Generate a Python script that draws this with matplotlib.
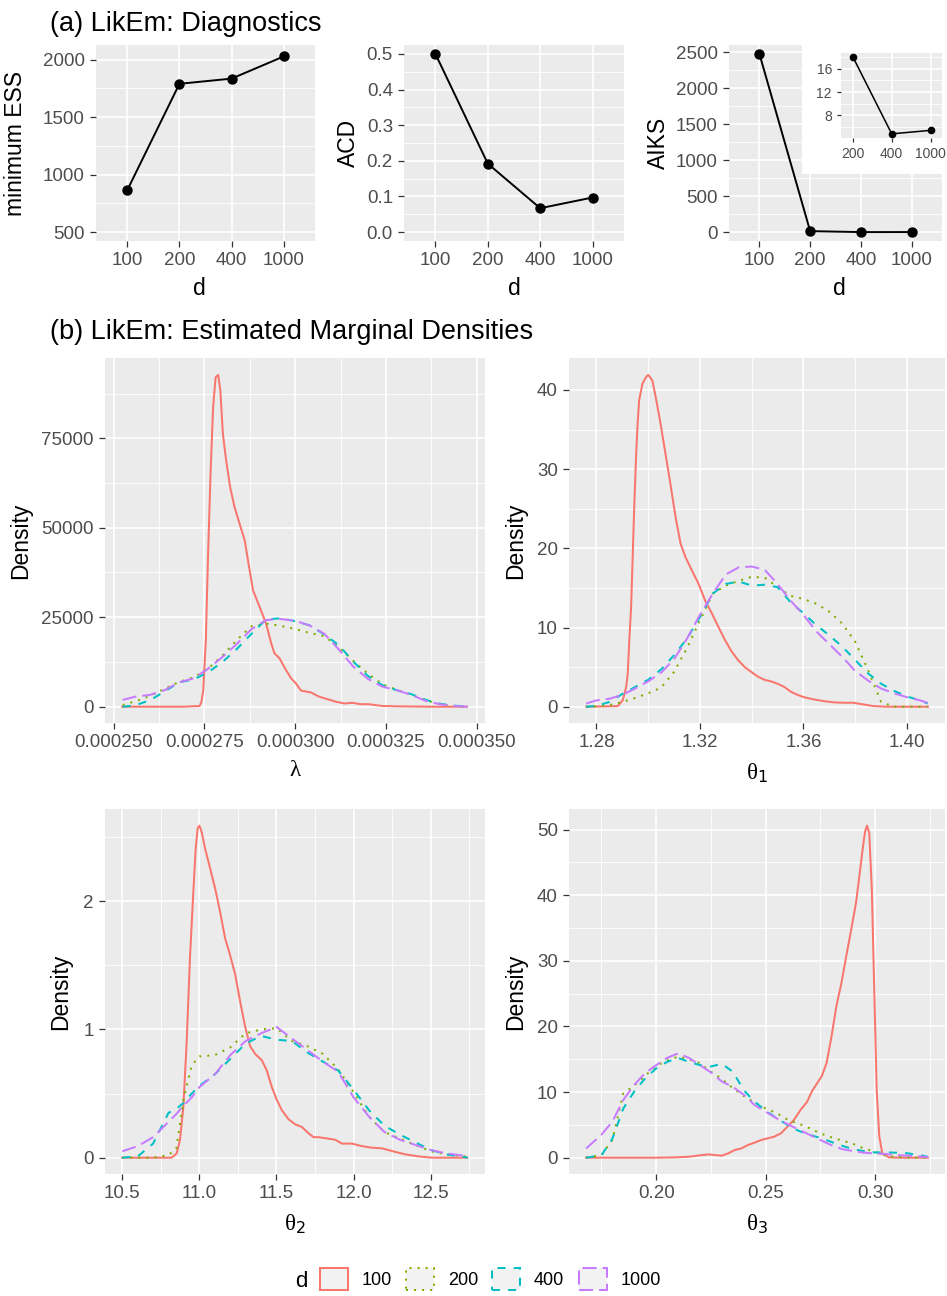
import numpy as np
import matplotlib
matplotlib.use("Agg")
import matplotlib.pyplot as plt
from matplotlib.patches import Patch, Rectangle
from matplotlib.ticker import FixedLocator

plt.rcParams['font.family'] = ['Liberation Sans', 'DejaVu Sans']

# ---- data: diagnostics ----
d_levels = ['100', '200', '400', '1000']
min_ess = [865, 1790, 1835, 2028]
acd = [0.50, 0.192, 0.067, 0.097]
aiks = [2475, 18.1, 4.8, 5.4]

# ---- data: marginal densities ----
# lambda, x in units of 1e-6, density in thousands
lam_grid = [252.5, 256, 260, 264, 268, 272, 276, 280, 284, 288, 292, 296, 300,
            304, 308, 312, 316, 320, 324, 328, 332, 336, 340, 344, 347.5]
lam_200 = [0.46, 1.5, 3.0, 5.0, 6.9, 8.2, 10.6, 14.3, 18.7, 22.5, 23.2, 22.6, 21.7,
           20.6, 19.7, 16.7, 12.8, 9.2, 6.3, 4.7, 3.3, 1.8, 0.65, 0.2, 0]
lam_400 = [0, 0.4, 1.8, 4.2, 6.8, 7.6, 9.6, 12.5, 16.2, 20.4, 24.4, 24.7, 23.9,
           22.7, 20.2, 17.2, 12.6, 8.6, 6.0, 4.6, 3.5, 1.9, 0.8, 0.3, 0]
lam_1000 = [1.9, 2.8, 3.3, 4.6, 6.8, 7.9, 10.6, 13.9, 17.6, 21.7, 24.2, 24.5, 24.0,
            22.7, 20.4, 16.0, 11.2, 7.8, 5.6, 4.6, 3.3, 1.6, 0.65, 0.2, 0]
lam_100_x = [252.4, 260.0, 269.2, 273.7, 274.2, 274.7, 275.4, 276.0, 276.7, 277.4,
             278.1, 278.8, 279.4, 280.1, 281.0, 282.1, 283.3, 284.7, 286.1, 287.0,
             288.4, 290.2, 292.0, 293.4, 294.3, 295.7, 297.5, 298.9, 300.2, 301.6,
             304.3, 306.6, 308.9, 311.2, 313.5, 315.8, 318.0, 320.3, 324.0, 328.5,
             337.7, 347.3]
lam_100 = [0, 0, 0, 0.2, 1.4, 4.6, 18.6, 41.8, 65.1, 83.6, 92.0, 92.7, 88.3, 76.2,
           68.8, 61.3, 55.8, 51.1, 46.5, 40.9, 32.5, 27.9, 23.2, 17.7, 14.9, 13.5,
           10.2, 7.9, 6.5, 4.5, 4.0, 2.8, 2.1, 1.4, 0.9, 1.1, 0.7, 0.7, 0.2, 0.1, 0, 0]

# theta1
t1_grid = [1.276, 1.280, 1.285, 1.290, 1.295, 1.300, 1.305, 1.310, 1.315, 1.320,
           1.325, 1.330, 1.335, 1.340, 1.345, 1.350, 1.355, 1.360, 1.365, 1.370,
           1.375, 1.380, 1.385, 1.390, 1.395, 1.400, 1.405, 1.408]
t1_200 = [0, 0.04, 0.2, 0.6, 1.1, 1.7, 2.4, 4.4, 7.4, 10.9, 14.3, 15.3, 15.9, 16.4,
          16.3, 15.1, 14.0, 13.6, 13.0, 12.0, 10.5, 8.2, 4.6, 0.6, 0, 0, 0, 0]
t1_400 = [0, 0.1, 0.6, 1.6, 2.5, 3.4, 4.7, 6.5, 8.6, 11.3, 14.3, 15.5, 15.8, 15.3,
          15.4, 15.1, 13.2, 11.8, 10.3, 9.0, 7.6, 5.9, 4.2, 2.9, 2.0, 1.3, 0.8, 0.4]
t1_1000 = [0.4, 0.8, 1.0, 1.5, 2.3, 3.2, 4.3, 6.0, 8.6, 11.6, 14.3, 16.7, 17.6, 17.7,
           17.3, 15.5, 13.4, 11.6, 9.5, 7.9, 6.3, 4.5, 3.3, 2.3, 1.7, 1.2, 0.8, 0.5]
t1_100_x = [1.2761, 1.2883, 1.2902, 1.2915, 1.2921, 1.2927, 1.2934, 1.2940, 1.2946,
            1.2953, 1.2959, 1.2965, 1.2978, 1.2991, 1.3000, 1.3016, 1.3029, 1.3048,
            1.3067, 1.3086, 1.3106, 1.3125, 1.3144, 1.3169, 1.3195, 1.3220, 1.3246,
            1.3271, 1.3297, 1.3322, 1.3347, 1.3373, 1.3398, 1.3424, 1.3449, 1.3475,
            1.3500, 1.3526, 1.3551, 1.3577, 1.3602, 1.3640, 1.3678, 1.3717, 1.3755,
            1.3793, 1.3831, 1.3869, 1.3920, 1.4081]
t1_100 = [0, 0.08, 0.84, 2.5, 4.2, 8.4, 12.6, 18.9, 25.2, 31.5, 35.7, 38.7, 40.8,
          41.6, 41.9, 41.2, 39.1, 35.7, 31.9, 28.1, 23.9, 20.6, 18.9, 17.2, 15.5,
          13.4, 11.8, 10.1, 8.4, 7.0, 5.9, 5.0, 4.4, 3.8, 3.4, 3.2, 2.9, 2.5, 1.9,
          1.5, 1.2, 0.92, 0.71, 0.55, 0.5, 0.5, 0.29, 0.08, 0, 0]

# theta2
t2_grid = [10.5, 10.6, 10.7, 10.8, 10.85, 10.9, 10.95, 11.0, 11.1, 11.2, 11.3, 11.4,
           11.5, 11.6, 11.7, 11.8, 11.9, 12.0, 12.1, 12.2, 12.3, 12.4, 12.5, 12.6,
           12.7, 12.74]
t2_200 = [0, 0, 0, 0.02, 0.07, 0.47, 0.72, 0.79, 0.80, 0.86, 0.97, 1.00, 1.01, 0.91,
          0.87, 0.81, 0.69, 0.51, 0.32, 0.20, 0.15, 0.10, 0.05, 0.026, 0.013, 0.008]
t2_400 = [0, 0.01, 0.11, 0.35, 0.38, 0.43, 0.50, 0.56, 0.65, 0.77, 0.89, 0.95, 0.92,
          0.91, 0.82, 0.75, 0.68, 0.53, 0.37, 0.25, 0.18, 0.12, 0.06, 0.026, 0.008, 0]
t2_1000 = [0.05, 0.09, 0.16, 0.28, 0.34, 0.41, 0.47, 0.55, 0.65, 0.80, 0.91, 0.97,
           1.02, 0.93, 0.84, 0.75, 0.67, 0.47, 0.32, 0.20, 0.14, 0.10, 0.06, 0.034,
           0.018, 0.013]
t2_100_x = [10.500, 10.820, 10.853, 10.874, 10.896, 10.918, 10.939, 10.961, 10.976,
            10.989, 11.000, 11.015, 11.037, 11.069, 11.102, 11.134, 11.167, 11.199,
            11.232, 11.264, 11.297, 11.329, 11.361, 11.405, 11.437, 11.470, 11.502,
            11.535, 11.578, 11.621, 11.664, 11.708, 11.740, 11.773, 11.827, 11.881,
            11.924, 11.989, 12.054, 12.119, 12.184, 12.249, 12.335, 12.422, 12.509,
            12.736]
t2_100 = [0, 0, 0.034, 0.137, 0.396, 0.913, 1.56, 2.08, 2.41, 2.57, 2.59, 2.54, 2.41,
          2.26, 2.10, 1.92, 1.71, 1.58, 1.43, 1.22, 1.02, 0.87, 0.81, 0.76, 0.68,
          0.55, 0.45, 0.37, 0.30, 0.26, 0.24, 0.19, 0.16, 0.16, 0.15, 0.14, 0.11,
          0.11, 0.09, 0.078, 0.073, 0.052, 0.026, 0.010, 0, 0]

# theta3
t3_grid = [0.168, 0.175, 0.180, 0.185, 0.190, 0.195, 0.200, 0.205, 0.210, 0.215,
           0.220, 0.225, 0.230, 0.235, 0.240, 0.245, 0.250, 0.255, 0.260, 0.265,
           0.270, 0.275, 0.280, 0.285, 0.290, 0.295, 0.300, 0.305, 0.310, 0.315,
           0.320, 0.324]
t3_200 = [0, 0.4, 2.7, 9.8, 11.0, 12.5, 14.0, 14.8, 15.4, 15.0, 14.4, 13.1, 12.0,
          10.6, 9.4, 8.4, 7.5, 6.8, 5.8, 5.2, 4.5, 3.7, 3.1, 2.6, 2.1, 1.4, 0.9, 0.3,
          0.1, 0.05, 0, 0]
t3_400 = [0, 0.36, 2.9, 7.5, 10.1, 12.1, 13.6, 14.6, 15.2, 14.6, 14.1, 13.9, 14.3,
          13.1, 10.3, 8.5, 7.2, 6.0, 5.0, 4.1, 3.5, 3.0, 2.4, 1.8, 1.3, 1.0, 0.8, 0.8,
          0.76, 0.66, 0.4, 0.15]
t3_1000 = [1.4, 3.5, 5.5, 8.8, 11.1, 12.9, 14.1, 15.2, 15.9, 15.2, 14.1, 13.0, 11.6,
           10.8, 9.6, 8.0, 7.0, 6.0, 5.1, 4.3, 3.5, 2.7, 1.9, 1.3, 1.0, 0.76, 0.66,
           0.56, 0.4, 0.3, 0.2, 0.1]
t3_100_x = [0.1680, 0.2000, 0.2090, 0.2150, 0.2210, 0.2240, 0.2269, 0.2299, 0.2329,
            0.2359, 0.2389, 0.2419, 0.2449, 0.2479, 0.2509, 0.2539, 0.2569, 0.2599,
            0.2629, 0.2659, 0.2689, 0.2711, 0.2734, 0.2756, 0.2778, 0.2801, 0.2823,
            0.2846, 0.2868, 0.2891, 0.2913, 0.2928, 0.2943, 0.2954, 0.2963, 0.2973,
            0.2985, 0.2996, 0.3007, 0.3019, 0.3033, 0.3063, 0.3123, 0.3241]
t3_100 = [0, 0, 0.05, 0.15, 0.4, 0.5, 0.4, 0.3, 0.66, 1.17, 1.42, 1.93, 2.29, 2.69,
          2.95, 3.2, 3.7, 4.7, 5.75, 7.27, 8.5, 10.1, 11.3, 12.4, 14.4, 18.5, 23.1,
          26.6, 30.7, 34.8, 38.9, 42.9, 47.0, 49.7, 50.6, 49.5, 40.8, 25.6, 10.3, 3.2,
          0.66, 0.05, 0, 0]

colors = ['#F8766D', '#7CAE00', '#00BFC4', '#C77CFF']
dashes = [None, (1, 3), (4, 4), (7, 3)]

W, H = 947, 1296
fig = plt.figure(figsize=(W / 100, H / 100), dpi=100)


def rect(x0, y0, x1, y1):
    return [x0 / W, 1 - y1 / H, (x1 - x0) / W, (y1 - y0) / H]


def style(ax, fs=13.5, tl=4, pad=4):
    ax.set_facecolor('#EBEBEB')
    for s in ax.spines.values():
        s.set_visible(False)
    ax.grid(which='major', color='white', lw=1.2)
    ax.grid(which='minor', color='white', lw=0.6)
    ax.set_axisbelow(True)
    ax.tick_params(which='major', length=tl, width=0.9, color='#333333',
                   labelcolor='#4D4D4D', labelsize=fs, pad=pad)
    ax.tick_params(which='minor', length=0)


def expand(lo, hi, m=0.05):
    d = (hi - lo) * m
    return lo - d, hi + d


def ylab(ax, text, xr, yc):
    ax.set_ylabel(text, fontsize=16.5)
    ax.yaxis.set_label_coords(xr / W, 1 - yc / H, transform=fig.transFigure)


def xlab(ax, text, xc, yt, **kw):
    ax.set_xlabel(text, fontsize=16.5, **kw)
    ax.xaxis.set_label_coords(xc / W, 1 - yt / H, transform=fig.transFigure)


# ---- (a) diagnostics ----
fig.text(50 / W, 1 - 31 / H, '(a) LikEm: Diagnostics', fontsize=19.5, va='baseline')
pos = np.arange(1, len(d_levels) + 1)

diag = [
    ((96, 45, 315, 241), min_ess, 'minimum ESS', expand(500, 2050),
     [500, 1000, 1500, 2000], [750, 1250, 1750], ['500', '1000', '1500', '2000'], 26.5, 199),
    ((404, 45, 624, 241), acd, 'ACD', expand(0, 0.5),
     [0, 0.1, 0.2, 0.3, 0.4, 0.5], [0.05, 0.15, 0.25, 0.35, 0.45],
     ['0.0', '0.1', '0.2', '0.3', '0.4', '0.5'], 359.8, 514),
    ((729, 45, 942, 241), aiks, 'AIKS', expand(min(aiks), max(aiks)),
     [0, 500, 1000, 1500, 2000, 2500], [250, 750, 1250, 1750, 2250],
     ['0', '500', '1000', '1500', '2000', '2500'], 669.8, 839),
]
for box, vals, lab, yl, yt, ym, ytl, yx, xc in diag:
    ax = fig.add_axes(rect(*box))
    style(ax)
    ax.plot(pos, vals, color='black', lw=1.4, marker='o', ms=6.5)
    ax.set_xlim(0.4, len(pos) + 0.6)
    ax.set_xticks(pos, d_levels)
    ax.set_yticks(yt, ytl)
    ax.yaxis.set_minor_locator(FixedLocator(ym))
    ax.set_ylim(*yl)
    ylab(ax, lab, yx, (box[1] + box[3]) / 2)
    xlab(ax, 'd', xc, 277)

# inset for d >= 200
fig.add_artist(Rectangle((802 / W, 1 - 174 / H), 145 / W, 129 / H,
                         transform=fig.transFigure, facecolor='white',
                         edgecolor='none', zorder=1))
axi = fig.add_axes(rect(841, 52.7, 942.4, 137.7))
axi.set_zorder(2)
style(axi, fs=10, tl=3, pad=3.5)
axi.plot(pos[1:], aiks[1:], color='black', lw=1.1, marker='o', ms=4.5)
axi.set_xlim(1.7, 4.3)
axi.set_xticks(pos[1:], d_levels[1:])
axi.set_yticks([8, 12, 16], ['8', '12', '16'])
axi.yaxis.set_minor_locator(FixedLocator([6, 10, 14, 18]))
axi.set_ylim(*expand(min(aiks[1:]), max(aiks[1:])))

# ---- (b) marginal densities ----
fig.text(50 / W, 1 - 339.3 / H, '(b) LikEm: Estimated Marginal Densities',
         fontsize=19.5, va='baseline')

serif = ['Liberation Serif', 'DejaVu Serif']
lam_s = 1e-6
panels = [
    ((105, 358.3, 485, 723.3),
     [(np.array(lam_100_x) * lam_s, np.array(lam_100) * 1000)] +
     [(np.array(lam_grid) * lam_s, np.array(v) * 1000) for v in (lam_200, lam_400, lam_1000)],
     [0.000250, 0.000275, 0.000300, 0.000325, 0.000350],
     ['0.000250', '0.000275', '0.000300', '0.000325', '0.000350'],
     [0.0002625, 0.0002875, 0.0003125, 0.0003375],
     [0, 25000, 50000, 75000], ['0', '25000', '50000', '75000'],
     [12500, 37500, 62500, 87500], 'λ', 31.7, 760),
    ((569, 358.3, 945, 723.3),
     [(np.array(t1_100_x), np.array(t1_100))] +
     [(np.array(t1_grid), np.array(v)) for v in (t1_200, t1_400, t1_1000)],
     [1.28, 1.32, 1.36, 1.40], ['1.28', '1.32', '1.36', '1.40'],
     [1.30, 1.34, 1.38],
     [0, 10, 20, 30, 40], ['0', '10', '20', '30', '40'],
     [5, 15, 25, 35], 'θ$_1$', 526.7, 761),
    ((105, 809, 485, 1174.3),
     [(np.array(t2_100_x), np.array(t2_100))] +
     [(np.array(t2_grid), np.array(v)) for v in (t2_200, t2_400, t2_1000)],
     [10.5, 11.0, 11.5, 12.0, 12.5], ['10.5', '11.0', '11.5', '12.0', '12.5'],
     [10.75, 11.25, 11.75, 12.25, 12.75],
     [0, 1, 2], ['0', '1', '2'], [0.5, 1.5, 2.5], 'θ$_2$', 71.7, 1211.7),
    ((569, 809, 945, 1174.3),
     [(np.array(t3_100_x), np.array(t3_100))] +
     [(np.array(t3_grid), np.array(v)) for v in (t3_200, t3_400, t3_1000)],
     [0.20, 0.25, 0.30], ['0.20', '0.25', '0.30'],
     [0.175, 0.225, 0.275, 0.325],
     [0, 10, 20, 30, 40, 50], ['0', '10', '20', '30', '40', '50'],
     [5, 15, 25, 35, 45], 'θ$_3$', 526.7, 1211.7),
]

for box, series, xt, xtl, xm, yt, ytl, ym, lab, yx, xtop in panels:
    ax = fig.add_axes(rect(*box))
    style(ax)
    for (x, y), c, ds in zip(series, colors, dashes):
        ln, = ax.plot(x, y, color=c, lw=1.45, solid_joinstyle='round')
        if ds is not None:
            ln.set_dashes(ds)
    xmin = min(s[0].min() for s in series)
    xmax = max(s[0].max() for s in series)
    ymax = max(s[1].max() for s in series)
    ax.set_xlim(*expand(xmin, xmax))
    ax.set_ylim(*expand(0, ymax))
    ax.set_xticks(xt, xtl)
    ax.xaxis.set_minor_locator(FixedLocator(xm))
    ax.set_yticks(yt, ytl)
    ax.yaxis.set_minor_locator(FixedLocator(ym))
    ylab(ax, 'Density', yx, (box[1] + box[3]) / 2)
    xlab(ax, lab, (box[0] + box[2]) / 2, xtop, family=serif)

# ---- legend ----
fig.text(295 / W, 1 - 1287 / H, 'd', fontsize=16, va='baseline')
handles = []
for c, ds in zip(colors, dashes):
    handles.append(Patch(facecolor='#F2F2F2', edgecolor=c, linewidth=1.45,
                         linestyle='-' if ds is None else (0, ds)))
fig.legend(handles, d_levels, loc='center left',
           bbox_to_anchor=(320 / W, 1 - 1279 / H), ncol=4, frameon=False,
           fontsize=13, handlelength=1.55, handleheight=1.55, handletextpad=0.75,
           columnspacing=0.8, borderpad=0, borderaxespad=0)

fig.savefig('out.png', dpi=100)
